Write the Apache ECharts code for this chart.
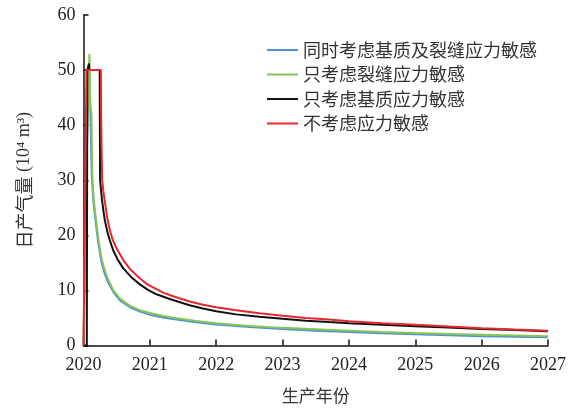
<!DOCTYPE html>
<html>
<head>
<meta charset="utf-8">
<script src="https://cdn.jsdelivr.net/npm/echarts@6/dist/echarts.min.js"></script>
<style>
html,body{margin:0;padding:0;background:#fff;}
#chart{width:569px;height:411px;}
</style>
</head>
<body>
<div id="chart"></div>
<script>
// Series names (legend)
const seriesNames = ['同时考虑基质及裂缝应力敏感', '只考虑裂缝应力敏感', '只考虑基质应力敏感', '不考虑应力敏感'];
// X tick labels / axis range
const yearTicks = [2020, 2021, 2022, 2023, 2024, 2025, 2026, 2027];

// 同时考虑基质及裂缝应力敏感 (blue)
const tBlue = [2020, 2020.02, 2020.04, 2020.07, 2020.09, 2020.105, 2020.12, 2020.13, 2020.15, 2020.185, 2020.22, 2020.27, 2020.32, 2020.37, 2020.45, 2020.55, 2020.7, 2020.85, 2021.0, 2021.2, 2021.4, 2021.7, 2022.0, 2022.5, 2023.0, 2023.5, 2024.0, 2024.5, 2025.0, 2025.5, 2026.0, 2026.5, 2027.0];
const vBlue = [0, 0, 30, 45, 50, 42, 33, 29.5, 26, 22.3, 18.8, 15.2, 13, 11.5, 9.7, 8.2, 6.95, 6.15, 5.6, 5.1, 4.7, 4.2, 3.82, 3.35, 3.0, 2.7, 2.45, 2.22, 2.02, 1.85, 1.7, 1.6, 1.5];

// 只考虑裂缝应力敏感 (green)
const tGreen = [2020, 2020.02, 2020.035, 2020.06, 2020.09, 2020.1, 2020.12, 2020.13, 2020.135, 2020.155, 2020.19, 2020.227, 2020.277, 2020.33, 2020.378, 2020.45, 2020.55, 2020.7, 2020.85, 2021.0, 2021.2, 2021.4, 2021.7, 2022.0, 2022.5, 2023.0, 2023.5, 2024.0, 2024.5, 2025.0, 2025.5, 2026.0, 2026.5, 2027.0];
const vGreen = [0, 0, 25, 42, 52.9, 44, 42, 32, 30, 26.4, 22.7, 19.1, 15.5, 13.3, 11.8, 10.0, 8.5, 7.2, 6.4, 5.9, 5.35, 4.95, 4.45, 4.05, 3.55, 3.2, 2.95, 2.7, 2.45, 2.25, 2.1, 1.95, 1.82, 1.7];

// 只考虑基质应力敏感 (black)
const tBlack = [2020, 2020.05, 2020.057, 2020.08, 2020.083, 2020.087, 2020.244, 2020.247, 2020.25, 2020.278, 2020.3, 2020.32, 2020.36, 2020.394, 2020.45, 2020.52, 2020.6, 2020.72, 2020.85, 2020.97, 2021.1, 2021.31, 2021.6, 2021.8, 2022.0, 2022.3, 2022.65, 2023.0, 2023.35, 2023.7, 2024.0, 2024.5, 2025.0, 2025.5, 2026.0, 2026.5, 2027.0];
const vBlack = [0, 0, 50, 50, 51.2, 50, 50, 40, 30, 26.5, 24.5, 22.8, 20.6, 19.2, 17.2, 15.5, 14.0, 12.4, 11.1, 10.1, 9.3, 8.4, 7.3, 6.7, 6.2, 5.65, 5.2, 4.85, 4.5, 4.25, 4.05, 3.75, 3.5, 3.25, 3.0, 2.8, 2.6];

// 不考虑应力敏感 (red)
const tRed = [2020, 2020.03, 2020.045, 2020.262, 2020.265, 2020.272, 2020.282, 2020.3, 2020.32, 2020.36, 2020.4, 2020.44, 2020.5, 2020.6, 2020.7, 2020.82, 2020.95, 2021.07, 2021.2, 2021.36, 2021.6, 2021.8, 2022.0, 2022.3, 2022.65, 2023.0, 2023.35, 2023.7, 2024.0, 2024.5, 2025.0, 2025.5, 2026.0, 2026.5, 2027.0];
const vRed = [0, 0, 50, 50, 43, 36, 30, 28, 26.3, 23, 20.8, 19.2, 17.6, 15.5, 13.9, 12.5, 11.2, 10.4, 9.6, 8.9, 8.0, 7.4, 6.95, 6.4, 5.85, 5.4, 5.0, 4.7, 4.4, 4.05, 3.75, 3.45, 3.15, 2.9, 2.7];

const colors = ['#4d93d3', '#86c454', '#111111', '#e8262c'];

function pairs(t, v) { return t.map((x, i) => [x, v[i]]); }
const seriesData = [pairs(tBlue, vBlue), pairs(tGreen, vGreen), pairs(tBlack, vBlack), pairs(tRed, vRed)];

const chart = echarts.init(document.getElementById('chart'), null, {renderer: 'canvas'});
const serif = 'Liberation Serif';
const cjk = 'Noto Sans CJK SC';

chart.setOption({
  animation: false,
  backgroundColor: '#ffffff',
  grid: {left: 83.5, right: 20.5, top: 15, bottom: 65.5, containLabel: false},
  legend: {
    orient: 'vertical',
    left: 262,
    top: 36,
    itemWidth: 31,
    itemHeight: 2,
    itemGap: 6.5,
    icon: 'rect',
    data: seriesNames,
    textStyle: {fontFamily: cjk, fontSize: 18, color: '#333', lineHeight: 18}
  },
  xAxis: {
    type: 'value',
    min: yearTicks[0],
    max: yearTicks[yearTicks.length - 1],
    interval: 1,
    name: '生产年份',
    nameLocation: 'middle',
    nameGap: 42,
    nameTextStyle: {fontFamily: cjk, fontSize: 17, color: '#333'},
    axisLine: {show: true, onZero: false, lineStyle: {color: '#111', width: 1.5}},
    axisTick: {show: true, inside: true, length: 6, lineStyle: {color: '#111', width: 1.5}},
    axisLabel: {fontFamily: serif, fontSize: 18, color: '#222', margin: 11, formatter: v => String(v)},
    splitLine: {show: false}
  },
  yAxis: {
    type: 'value',
    min: 0,
    max: 60,
    interval: 10,
    name: '{c|日产气量}{s| (10⁴ m³)}',
    nameLocation: 'middle',
    nameRotate: 90,
    nameGap: 50,
    nameTextStyle: {
      fontSize: 18, color: '#333',
      rich: {
        c: {fontFamily: cjk, fontSize: 18, color: '#333'},
        s: {fontFamily: serif, fontSize: 18, color: '#333'}
      }
    },
    axisLine: {show: true, lineStyle: {color: '#111', width: 1.5}},
    axisTick: {show: true, inside: true, length: 5, lineStyle: {color: '#111', width: 1.5}},
    axisLabel: {fontFamily: serif, fontSize: 18, color: '#222', margin: 8},
    splitLine: {show: false}
  },
  series: seriesNames.map((n, i) => ({
    name: n,
    type: 'line',
    data: seriesData[i],
    symbol: 'none',
    showSymbol: false,
    smooth: false,
    color: colors[i],
    lineStyle: {color: colors[i], width: 2},
    z: 2 + i
  }))
});
</script>
</body>
</html>
